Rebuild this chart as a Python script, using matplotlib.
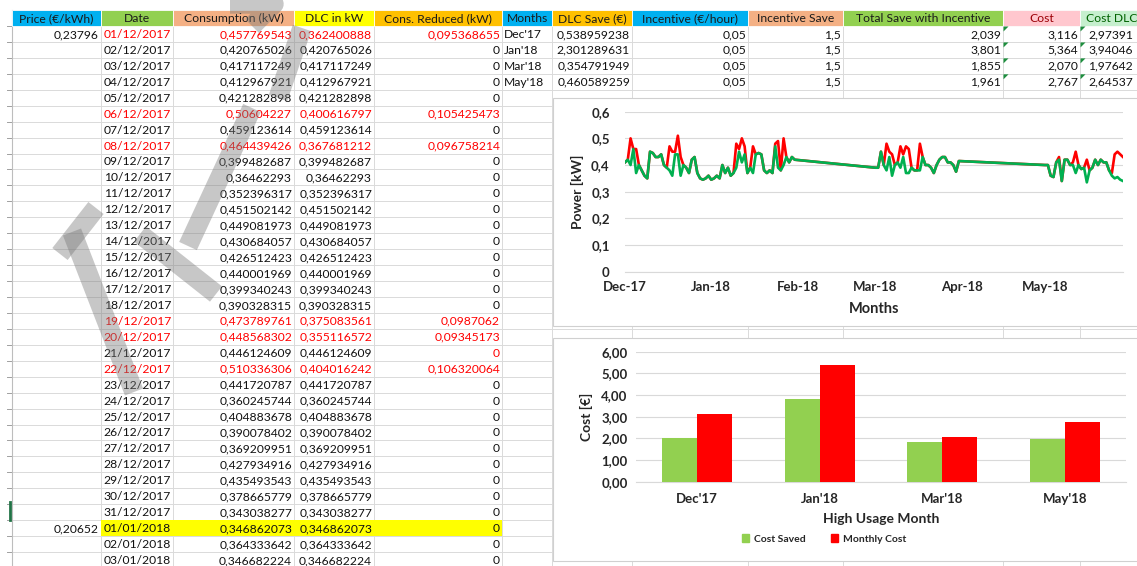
import numpy as np
import pandas as pd
import matplotlib
matplotlib.use("Agg")
import matplotlib.pyplot as plt
import matplotlib.dates as mdates
from matplotlib.patches import Rectangle, Polygon, Patch
from matplotlib.ticker import FuncFormatter, MultipleLocator

plt.rcParams['font.family'] = ['Lato', 'DejaVu Sans']

W, H = 1137, 566

# ---------------- spreadsheet data ----------------
headers = ["Price (€/kWh)", "Date", "Consumption (kW)", "DLC in kW", "Cons. Reduced (kW)",
           "Months", "DLC Save (€)", "Incentive (€/hour)", "Incentive Save",
           "Total Save with Incentive", "Cost", "Cost DLC"]
header_colors = ["#00B0F0", "#92D050", "#F4B084", "#FFFF00", "#FFC000",
                 "#00B0F0", "#FFC000", "#00B0F0", "#F4B084", "#92D050", "#FFC7CE", "#C6EFCE"]
header_text_colors = ["#1a1a1a"] * 10 + ["#9C0006", "#006100"]

dates = ["01/12/2017", "02/12/2017", "03/12/2017", "04/12/2017", "05/12/2017", "06/12/2017",
         "07/12/2017", "08/12/2017", "09/12/2017", "10/12/2017", "11/12/2017", "12/12/2017",
         "13/12/2017", "14/12/2017", "15/12/2017", "16/12/2017", "17/12/2017", "18/12/2017",
         "19/12/2017", "20/12/2017", "21/12/2017", "22/12/2017", "23/12/2017", "24/12/2017",
         "25/12/2017", "26/12/2017", "27/12/2017", "28/12/2017", "29/12/2017", "30/12/2017",
         "31/12/2017", "01/01/2018", "02/01/2018", "03/01/2018"]
consumption = [0.457769543, 0.420765026, 0.417117249, 0.412967921, 0.421282898, 0.50604227,
               0.459123614, 0.464439426, 0.399482687, 0.36462293, 0.352396317, 0.451502142,
               0.449081973, 0.430684057, 0.426512423, 0.440001969, 0.399340243, 0.390328315,
               0.473789761, 0.448568302, 0.446124609, 0.510336306, 0.441720787, 0.360245744,
               0.404883678, 0.390078402, 0.369209951, 0.427934916, 0.435493543, 0.378665779,
               0.343038277, 0.346862073, 0.364333642, 0.346682224]
dlc_kw = [0.362400888, 0.420765026, 0.417117249, 0.412967921, 0.421282898, 0.400616797,
          0.459123614, 0.367681212, 0.399482687, 0.36462293, 0.352396317, 0.451502142,
          0.449081973, 0.430684057, 0.426512423, 0.440001969, 0.399340243, 0.390328315,
          0.375083561, 0.355116572, 0.446124609, 0.404016242, 0.441720787, 0.360245744,
          0.404883678, 0.390078402, 0.369209951, 0.427934916, 0.435493543, 0.378665779,
          0.343038277, 0.346862073, 0.364333642, 0.346682224]
reduced = [0.095368655, 0, 0, 0, 0, 0.105425473, 0, 0.096758214, 0, 0, 0, 0, 0, 0, 0, 0, 0, 0,
           0.0987062, 0.09345173, 0, 0.106320064, 0, 0, 0, 0, 0, 0, 0, 0, 0, 0, 0, 0]
price = {0: "0,23796", 31: "0,20652"}
red_rows = [0, 5, 7, 18, 19, 21]
red_zero_rows = [20]
yellow_row = 31

months = ["Dec'17", "Jan'18", "Mar'18", "May'18"]
dlc_save = ["0,538959238", "2,301289631", "0,354791949", "0,460589259"]
incentive = ["0,05"] * 4
incentive_save = ["1,5"] * 4
total_save = [2.039, 3.801, 1.855, 1.961]
cost = [3.116, 5.364, 2.070, 2.767]
cost_dlc = ["2,97391", "3,94046", "1,97642", "2,64537"]

# ---------------- daily power ----------------
dec_cons = [0.41, 0.42, 0.50, 0.46, 0.46, 0.40, 0.38, 0.36, 0.35, 0.45, 0.445, 0.43, 0.43, 0.44, 0.40, 0.39,
            0.47, 0.45, 0.45, 0.51, 0.43, 0.40, 0.39, 0.37, 0.42, 0.43, 0.37, 0.35, 0.345, 0.35, 0.36]
dec_dlc = [0.41, 0.42, 0.40, 0.46, 0.37, 0.40, 0.38, 0.36, 0.35, 0.45, 0.445, 0.43, 0.43, 0.44, 0.40, 0.39,
           0.38, 0.36, 0.44, 0.44, 0.36, 0.40, 0.39, 0.37, 0.42, 0.43, 0.37, 0.35, 0.345, 0.35, 0.36]
jan_cons = [0.345, 0.35, 0.36, 0.35, 0.40, 0.37, 0.39, 0.36, 0.37, 0.48, 0.46, 0.50, 0.47, 0.37, 0.39, 0.47,
            0.44, 0.445, 0.44, 0.38, 0.37, 0.38, 0.37, 0.48, 0.49, 0.38, 0.50, 0.43, 0.41, 0.43, 0.42]
jan_dlc = [0.345, 0.35, 0.36, 0.35, 0.40, 0.37, 0.39, 0.36, 0.37, 0.39, 0.45, 0.41, 0.44, 0.37, 0.39, 0.37,
           0.44, 0.445, 0.44, 0.38, 0.37, 0.38, 0.37, 0.47, 0.39, 0.38, 0.40, 0.43, 0.41, 0.43, 0.42]
mar_cons = [0.39, 0.39, 0.45, 0.40, 0.48, 0.45, 0.44, 0.40, 0.41, 0.47, 0.44, 0.47, 0.46, 0.39, 0.38, 0.38,
            0.48, 0.43, 0.40, 0.40, 0.39, 0.37, 0.40, 0.42, 0.43, 0.43, 0.41, 0.41, 0.40, 0.375, 0.415]
mar_dlc = [0.39, 0.39, 0.45, 0.40, 0.38, 0.43, 0.36, 0.40, 0.41, 0.39, 0.43, 0.37, 0.37, 0.39, 0.38, 0.38,
           0.38, 0.43, 0.40, 0.40, 0.39, 0.37, 0.40, 0.42, 0.43, 0.43, 0.41, 0.41, 0.40, 0.375, 0.415]
may_cons = [0.40, 0.40, 0.36, 0.355, 0.41, 0.43, 0.34, 0.42, 0.42, 0.40, 0.41, 0.45, 0.40, 0.385, 0.39,
            0.42, 0.38, 0.39, 0.42, 0.40, 0.42, 0.41, 0.41, 0.38, 0.37, 0.44, 0.45, 0.44, 0.43]
may_dlc = [0.40, 0.40, 0.36, 0.355, 0.41, 0.42, 0.34, 0.42, 0.42, 0.40, 0.40, 0.37, 0.40, 0.385, 0.39,
           0.335, 0.38, 0.39, 0.42, 0.40, 0.42, 0.41, 0.41, 0.38, 0.36, 0.35, 0.355, 0.345, 0.34]

day_index = (pd.date_range("2017-12-01", periods=len(dec_cons)).append(
    pd.date_range("2018-01-01", periods=len(jan_cons))).append(
    pd.date_range("2018-03-01", periods=len(mar_cons))).append(
    pd.date_range("2018-05-01", periods=len(may_cons))))
power_cons = dec_cons + jan_cons + mar_cons + may_cons
power_dlc = dec_dlc + jan_dlc + mar_dlc + may_dlc


def general(v):
    if v == 0:
        return "0"
    return ("%.9f" % v).rstrip("0").replace(".", ",")


def fmt3(v):
    return ("%.3f" % v).replace(".", ",")


# ---------------- figure & spreadsheet background ----------------
fig = plt.figure(figsize=(W / 100, H / 100), dpi=100)
bg = fig.add_axes([0, 0, 1, 1])
bg.set_xlim(0, W)
bg.set_ylim(H, 0)
bg.axis("off")

col_edges = [12, 101, 173, 294, 374, 502, 552, 632, 748, 843, 1003, 1080, 1150]
head_top, head_bot = 10, 26
row_h = 15.94
n_rows = 35
grid_c = "#DADADA"
fs = 8.7
TXT = "#111111"
RED = "#FF0000"

for i in range(n_rows + 1):
    y = head_bot + i * row_h
    bg.plot([12, W], [y, y], color=grid_c, lw=0.7, zorder=1)
    bg.plot([7, 12], [y, y], color="#A0A0A0", lw=0.7, zorder=1)
bg.plot([12, W], [head_top, head_top], color=grid_c, lw=0.7, zorder=1)
for x in col_edges:
    bg.plot([x, x], [head_top, H], color=grid_c, lw=0.7, zorder=1)
bg.plot([11.5, 11.5], [head_top, H], color="#BDBDBD", lw=0.8, zorder=1)
bg.plot([10, 10], [502, 520], color="#217346", lw=2, zorder=1)

# header cells
for j, name in enumerate(headers):
    x0, x1 = col_edges[j], col_edges[j + 1]
    bg.add_patch(Rectangle((x0, head_top), x1 - x0, head_bot - head_top,
                           facecolor=header_colors[j], edgecolor="white", lw=0.6, zorder=2))
    xc = (x0 + min(x1, W)) / 2 if j < 11 else x0 + 6
    bg.text(xc, (head_top + head_bot) / 2 + 0.5, name, ha="center" if j < 11 else "left",
            va="center", fontsize=fs, color=header_text_colors[j], zorder=3)

# yellow highlight
yt = head_bot + yellow_row * row_h
bg.add_patch(Rectangle((101, yt), 502 - 101, row_h, facecolor="#FFFF00", edgecolor="none", zorder=2))

# left table rows
for i in range(len(dates)):
    yc = head_bot + i * row_h + row_h / 2 + 0.5
    c = RED if i in red_rows else TXT
    if i in price:
        bg.text(99, yc, price[i], ha="right", va="center", fontsize=fs, color=TXT, zorder=3)
    bg.text(171, yc, dates[i], ha="right", va="center", fontsize=fs, color=c, zorder=3)
    bg.text(292, yc, general(consumption[i]), ha="right", va="center", fontsize=fs, color=c, zorder=3)
    bg.text(372, yc, general(dlc_kw[i]), ha="right", va="center", fontsize=fs, color=c, zorder=3)
    cr = RED if (i in red_rows or i in red_zero_rows) else TXT
    bg.text(500, yc, general(reduced[i]), ha="right", va="center", fontsize=fs, color=cr, zorder=3)

# right table rows
for i in range(len(months)):
    yt = head_bot + i * row_h
    yc = yt + row_h / 2 + 0.5
    bg.text(504, yc, months[i], ha="left", va="center", fontsize=fs, color=TXT, zorder=3)
    bg.text(630, yc, dlc_save[i], ha="right", va="center", fontsize=fs, color=TXT, zorder=3)
    bg.text(746, yc, incentive[i], ha="right", va="center", fontsize=fs, color=TXT, zorder=3)
    bg.text(841, yc, incentive_save[i], ha="right", va="center", fontsize=fs, color=TXT, zorder=3)
    bg.text(1001, yc, fmt3(total_save[i]), ha="right", va="center", fontsize=fs, color=TXT, zorder=3)
    bg.text(1078, yc, fmt3(cost[i]), ha="right", va="center", fontsize=fs, color=TXT, zorder=3)
    bg.text(1088, yc, cost_dlc[i], ha="left", va="center", fontsize=fs, color=TXT, zorder=3)
    for xe in (1003, 1080):
        bg.add_patch(Polygon([(xe + 0.5, yt + 0.5), (xe + 5.5, yt + 0.5), (xe + 0.5, yt + 5.5)],
                             closed=True, facecolor="#1E8E3E", edgecolor="none", zorder=3))

# watermark strokes (semi transparent grey)
wm = [
    [(60, 254), (96, 208)],
    [(72, 232), (134, 392)],
    [(252, 108), (188, 246)],
    [(140, 234), (216, 294)],
    [(230, 4), (274, 4), (252, 26)],
    [(302, 28), (278, 98)],
]
for s in wm:
    xs, ys = zip(*s)
    bg.plot(xs, ys, color="#7A7A7A", alpha=0.42, lw=14, solid_capstyle="butt",
            solid_joinstyle="round", zorder=4)

# chart frames
bg.add_patch(Rectangle((553, 98), 600, 228, facecolor="white", edgecolor="#D0D0D0", lw=0.8, zorder=5))
bg.add_patch(Rectangle((553, 338), 600, 223, facecolor="white", edgecolor="#D0D0D0", lw=0.8, zorder=5))

CT = "#262626"

# ---------------- line chart ----------------
ax1 = fig.add_axes([625 / W, 1 - 271.7 / H, 498 / W, 160 / H])
ax1.set_facecolor("none")
ax1.plot(day_index, power_cons, color="#FF0000", lw=1.9, zorder=3)
ax1.plot(day_index, power_dlc, color="#00B050", lw=1.9, zorder=4)
ax1.set_ylim(0, 0.6)
ax1.set_xlim(day_index[0], day_index[-1])
ax1.yaxis.set_major_locator(MultipleLocator(0.1))
ax1.yaxis.set_major_formatter(FuncFormatter(lambda v, p: "0" if abs(v) < 1e-9 else ("%.1f" % v).replace(".", ",")))
ax1.xaxis.set_major_locator(mdates.MonthLocator())
ax1.xaxis.set_major_formatter(mdates.DateFormatter("%b-%y"))
ax1.grid(axis="y", color="#D9D9D9", lw=0.8)
ax1.set_axisbelow(True)
for sp in ("top", "right", "left"):
    ax1.spines[sp].set_visible(False)
ax1.spines["bottom"].set_color("#D9D9D9")
ax1.tick_params(axis="both", length=0, labelsize=9.5, labelcolor=CT)
ax1.tick_params(axis="y", pad=11)
ax1.tick_params(axis="x", pad=7)
for lab in ax1.get_xticklabels() + ax1.get_yticklabels():
    lab.set_fontweight("bold")
ax1.set_xlabel("Months", fontsize=10.5, fontweight="bold", color=CT, labelpad=6)
ax1.set_ylabel("Power [kW]", fontsize=10, fontweight="bold", color=CT, labelpad=5)

# ---------------- bar chart ----------------
ax2 = fig.add_axes([636 / W, 1 - 481.7 / H, 490 / W, 130 / H])
ax2.set_facecolor("none")
xpos = np.arange(len(months))
bw = 0.286
ax2.bar(xpos - bw / 2, total_save, width=bw, color="#92D050", zorder=3, label="Cost Saved")
ax2.bar(xpos + bw / 2, cost, width=bw, color="#FF0000", zorder=3, label="Monthly Cost")
ax2.set_xlim(-0.5, len(months) - 0.5)
ax2.set_ylim(0, 6)
ax2.yaxis.set_major_locator(MultipleLocator(1))
ax2.yaxis.set_major_formatter(FuncFormatter(lambda v, p: ("%.2f" % v).replace(".", ",")))
ax2.set_xticks(xpos)
ax2.set_xticklabels(months)
ax2.grid(axis="y", color="#D9D9D9", lw=0.8)
ax2.set_axisbelow(True)
for sp in ("top", "right", "left"):
    ax2.spines[sp].set_visible(False)
ax2.spines["bottom"].set_color("#D9D9D9")
ax2.tick_params(axis="both", length=0, labelsize=9.5, labelcolor=CT)
ax2.tick_params(axis="y", pad=6)
ax2.tick_params(axis="x", pad=8)
for lab in ax2.get_xticklabels() + ax2.get_yticklabels():
    lab.set_fontweight("bold")
ax2.set_xlabel("High Usage Month", fontsize=10, fontweight="bold", color=CT, labelpad=6)
ax2.set_ylabel("Cost [€]", fontsize=10, fontweight="bold", color=CT, labelpad=6)
handles = [Patch(color="#92D050", label="Cost Saved"), Patch(color="#FF0000", label="Monthly Cost")]
leg = fig.legend(handles=handles, loc="center", bbox_to_anchor=(824 / W, 1 - 539 / H), ncol=2,
                 frameon=False, handlelength=0.7, handleheight=0.7, handletextpad=0.5,
                 columnspacing=2.4, prop={"size": 7.5, "weight": "bold"})
for t in leg.get_texts():
    t.set_color(CT)

fig.savefig("out.png", dpi=100)
